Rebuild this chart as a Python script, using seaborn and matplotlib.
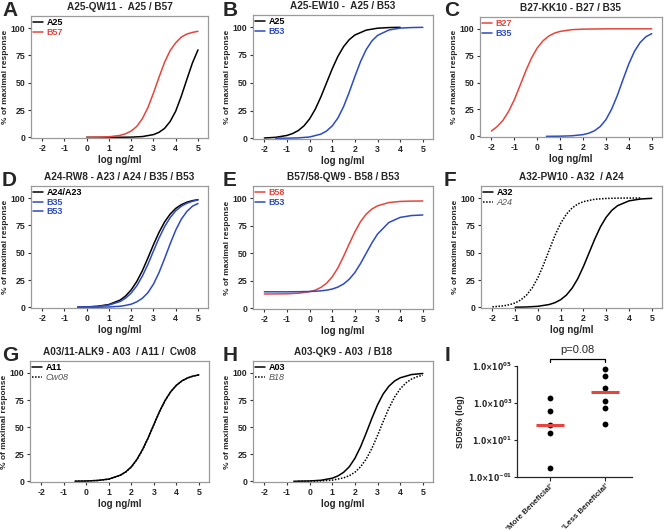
import numpy as np
import pandas as pd
import matplotlib
matplotlib.use("Agg")
import matplotlib.pyplot as plt
import seaborn as sns

sns.set_style("ticks")
plt.rcParams["font.family"] = ["Liberation Sans", "DejaVu Sans"]
plt.rcParams["font.weight"] = "bold"
plt.rcParams["axes.unicode_minus"] = False

RED = "#e5453c"
BLUE = "#2d4bc0"
DOT = (0, (1, 1))

# A: A25-QW11
a_x = [0, 0.5, 1, 1.5, 2, 2.5, 3, 3.25, 3.5, 3.75, 4, 4.25, 4.5, 4.75, 5]
a_a25 = [0, 0.01, 0.02, 0.07, 0.2, 0.7, 2.5, 4.6, 8.2, 14.5, 24, 37.6, 53, 68, 80]
a_xr = [0, 0.5, 1, 1.5, 1.75, 2, 2.25, 2.5, 2.75, 3, 3.25, 3.5, 3.75, 4, 4.25, 4.5, 4.75, 5]
a_b57 = [0.05, 0.16, 0.5, 1.8, 3.3, 5.8, 10.0, 17.0, 27.2, 40.5, 55, 68.7, 79.4, 86.5, 91.7, 94.5, 96.0, 97.0]

# B: A25-EW10
b_xk = [-2, -1.5, -1, -0.75, -0.5, -0.25, 0, 0.25, 0.5, 0.75, 1, 1.25, 1.5, 1.75, 2, 2.5, 3, 3.5, 4]
b_a25 = [0.3, 0.9, 2.6, 4.3, 7.0, 11.2, 17.5, 26.2, 37.4, 50, 62.6, 73.8, 82.5, 88.8, 93.0, 97.4, 99.1, 99.7, 99.9]
b_xb = [-1.5, -1, -0.5, 0, 0.5, 0.75, 1, 1.25, 1.5, 1.75, 2, 2.25, 2.5, 2.75, 3, 3.5, 4, 4.5, 5]
b_b53 = [0.04, 0.13, 0.4, 1.2, 3.8, 6.6, 11.2, 18.3, 28.5, 41.5, 55.7, 69.1, 79.9, 87.6, 92.6, 97.5, 99.2, 99.7, 99.9]

# C: B27-KK10
c_xr = [-2, -1.75, -1.5, -1.25, -1, -0.75, -0.5, -0.25, 0, 0.25, 0.5, 0.75, 1, 1.5, 2, 3, 4, 5]
c_b27 = [5.0, 9.1, 14.8, 23.2, 34.1, 47.3, 60.8, 72.9, 82.2, 88.8, 93.2, 96.0, 97.6, 99.2, 99.7, 100, 100, 100]
c_xb = [0.4, 1, 1.5, 2, 2.25, 2.5, 2.75, 3, 3.25, 3.5, 3.75, 4, 4.25, 4.5, 4.75, 5]
c_b35 = [0.03, 0.15, 0.5, 1.6, 2.9, 5.2, 9.1, 15.5, 25.3, 38.1, 53.0, 67.4, 79.2, 87.4, 92.7, 95.5]

# D: A24-RW8
d_x = [-0.4, 0, 0.5, 1, 1.5, 1.75, 2, 2.25, 2.5, 2.75, 3, 3.25, 3.5, 3.75, 4, 4.25, 4.5, 4.75, 5]
d_a24 = [0.17, 0.38, 1.0, 2.6, 6.6, 10.4, 16.0, 23.6, 33.4, 45.1, 57.3, 68.6, 78.1, 85.3, 90.5, 93.9, 96.2, 97.6, 98.5]
d_b35 = [0.14, 0.3, 0.8, 2.1, 5.3, 8.4, 13.1, 19.7, 28.5, 39.3, 51.5, 63.4, 73.8, 82.1, 88.3, 92.5, 95.2, 97.0, 98.2]
d_b53 = [0.02, 0.04, 0.11, 0.34, 1.0, 1.8, 2.9, 5.0, 8.3, 13.4, 21.2, 31.8, 44.6, 58.1, 70.6, 80.6, 87.7, 92.5, 95.0]

# E: B57/58-QW9
e_x = [-2, -1, -0.5, 0, 0.25, 0.5, 0.75, 1, 1.25, 1.5, 1.75, 2, 2.25, 2.5, 2.75, 3, 3.5, 4, 4.5, 5]
e_b58 = [13.0, 13.2, 13.7, 15.1, 16.5, 19.0, 22.8, 28.6, 36.7, 47.1, 58.5, 69.4, 78.7, 85.5, 90.1, 93.0, 96.0, 97.0, 97.3, 97.4]
e_b53 = [15.0, 15.0, 15.1, 15.3, 15.5, 15.9, 16.5, 17.5, 19.3, 22.1, 26.4, 32.5, 40.7, 50, 59.3, 67.4, 77.9, 82.5, 84.2, 84.7]

# F: A32-PW10
f_xk = [-1, -0.5, 0, 0.5, 0.75, 1, 1.25, 1.5, 1.75, 2, 2.25, 2.5, 2.75, 3, 3.25, 3.5, 4, 4.5, 5]
f_a32 = [0.12, 0.33, 0.94, 2.6, 4.3, 7.0, 11.2, 17.5, 26.2, 37.4, 50, 62.6, 73.8, 82.5, 88.8, 93.0, 97.4, 99.1, 99.7]
f_xd = [-2, -1.5, -1.25, -1, -0.75, -0.5, -0.25, 0, 0.25, 0.5, 0.75, 1, 1.25, 1.5, 1.75, 2, 2.5, 3, 3.5, 4, 4.5]
f_a24 = [0.47, 1.4, 2.4, 4.0, 6.8, 11.2, 17.8, 27.2, 39.2, 52.7, 65.9, 76.9, 85.2, 90.9, 94.5, 96.7, 98.9, 99.6, 99.9, 100, 100]

# G: A03/11-ALK9
g_x = [-0.5, 0, 0.5, 1, 1.5, 1.75, 2, 2.25, 2.5, 2.75, 3, 3.25, 3.5, 3.75, 4, 4.25, 4.5, 4.75, 5]
g_a11 = [0.12, 0.31, 0.82, 2.1, 5.6, 8.7, 13.4, 20.3, 29.4, 40.3, 52.4, 64.3, 74.6, 82.7, 88.6, 92.7, 95.4, 97.1, 98.2]
g_cw08 = [0.12, 0.3, 0.8, 2.0, 5.4, 8.5, 13.1, 20.0, 29.0, 40.0, 52.1, 64.1, 74.5, 82.6, 88.5, 92.7, 95.4, 97.1, 98.2]

# H: A03-QK9
h_xk = [-0.7, 0, 0.5, 1, 1.25, 1.5, 1.75, 2, 2.25, 2.5, 2.75, 3, 3.25, 3.5, 3.75, 4, 4.5, 5]
h_a03 = [0.07, 0.34, 1.0, 2.9, 5.0, 8.3, 13.4, 21.2, 31.8, 44.6, 58.1, 70.6, 80.6, 87.7, 92.5, 95.5, 98.5, 99.5]
h_xd = [-0.5, 0, 0.5, 1, 1.5, 1.75, 2, 2.25, 2.5, 2.75, 3, 3.25, 3.5, 3.75, 4, 4.25, 4.5, 4.75, 5]
h_b18 = [0.05, 0.15, 0.41, 1.1, 3.2, 5.2, 8.4, 13.4, 20.6, 30.4, 42.3, 55.2, 67.4, 77.6, 85.3, 90.7, 94.3, 96.5, 97.9]

# I: SD50% per group
i_groups = ["'More Beneficial'", "'Less Beneficial'"]
i_more = [1900, 390, 65, 24, 0.29]
i_less = [72000, 27500, 6600, 1350, 520, 71]

fig = plt.figure(figsize=(6.64, 5.31), dpi=100)


def box(l, t, r, b):
    return fig.add_axes([l / 664, 1 - b / 531, (r - l) / 664, (b - t) / 531])


def curve_panel(ax, title, curves):
    for name, xs, ys, color, ls in curves:
        sns.lineplot(x=xs, y=ys, ax=ax, color=color, linestyle=ls, lw=1.1,
                     label=name, sort=False)
    ax.set_xlim(-2.5, 5.45)
    ax.set_ylim(-0.6, 111)
    ax.set_xticks(range(-2, 6))
    ax.set_yticks([0, 25, 50, 75, 100])
    for s in ax.spines.values():
        s.set_color("#9a9a9a")
        s.set_linewidth(0.9)
    ax.tick_params(length=2.5, width=0.8, labelsize=6.3, pad=1.5, color="#333333")
    ax.set_xlabel("log ng/ml", fontsize=7, fontweight="bold", labelpad=2)
    ax.set_ylabel("% of maximal response", fontsize=6, fontweight="bold", labelpad=1)
    ax.set_title(title, fontsize=7.2, fontweight="bold", pad=4)
    leg = ax.legend(loc="upper left", frameon=False, fontsize=6.5, handlelength=1.1,
                    handletextpad=0.35, labelspacing=0.05, borderaxespad=0.15,
                    borderpad=0.1)
    for txt, (name, xs, ys, color, ls) in zip(leg.get_texts(), curves):
        if ls == "-":
            txt.set_color(color)
        else:
            txt.set_color("#555555")
            txt.set_fontstyle("italic")
            txt.set_fontweight("normal")


curve_panel(box(31, 16, 208, 138), "A25-QW11 -  A25 / B57",
            [("A25", a_x, a_a25, "black", "-"), ("B57", a_xr, a_b57, RED, "-")])
curve_panel(box(253, 15, 433, 139), "A25-EW10 -  A25 / B53",
            [("A25", b_xk, b_a25, "black", "-"), ("B53", b_xb, b_b53, BLUE, "-")])
curve_panel(box(480, 17, 662, 137), "B27-KK10 - B27 / B35",
            [("B27", c_xr, c_b27, RED, "-"), ("B35", c_xb, c_b35, BLUE, "-")])
curve_panel(box(31, 186, 208, 308), "A24-RW8 - A23 / A24 / B35 / B53",
            [("A24/A23", d_x, d_a24, "black", "-"), ("B35", d_x, d_b35, BLUE, "-"),
             ("B53", d_x, d_b53, BLUE, "-")])
curve_panel(box(253, 186, 433, 309), "B57/58-QW9 - B58 / B53",
            [("B58", e_x, e_b58, RED, "-"), ("B53", e_x, e_b53, BLUE, "-")])
curve_panel(box(481, 186, 662, 308), "A32-PW10 - A32  / A24",
            [("A32", f_xk, f_a32, "black", "-"), ("A24", f_xd, f_a24, "black", DOT)])
curve_panel(box(30, 361, 209, 482), "A03/11-ALK9 - A03  / A11 /  Cw08",
            [("A11", g_x, g_a11, "black", "-"), ("Cw08", g_x, g_cw08, "black", DOT)])
curve_panel(box(253, 361, 433, 482), "A03-QK9 - A03  / B18",
            [("A03", h_xk, h_a03, "black", "-"), ("B18", h_xd, h_b18, "black", DOT)])

# panel I
ax = box(517, 366, 632, 477)
df_i = pd.DataFrame({
    "group": [i_groups[0]] * len(i_more) + [i_groups[1]] * len(i_less),
    "sd50": i_more + i_less,
})
sns.stripplot(data=df_i, x="group", y="sd50", order=i_groups, jitter=False,
              color="black", size=4.2, ax=ax, log_scale=True)
for k, vals in enumerate([i_more, i_less]):
    ax.hlines(np.median(vals), k - 0.26, k + 0.26, color=RED, lw=2.2, zorder=3)
ax.set_yscale("log")
ax.set_ylim(0.1, 1e5)
ax.set_xlim(-0.6, 1.49)
ax.set_yticks([0.1, 10, 1000, 1e5])
ax.set_yticklabels([r"$\mathbf{1.0{\times}10^{-01}}$", r"$\mathbf{1.0{\times}10^{01}}$",
                    r"$\mathbf{1.0{\times}10^{03}}$", r"$\mathbf{1.0{\times}10^{05}}$"])
ax.minorticks_off()
ax.tick_params(axis="y", labelsize=5.5, length=2.5, width=0.8, pad=1)
ax.tick_params(axis="x", labelsize=5.8, length=3, width=0.8, pad=1)
plt.setp(ax.get_xticklabels(), rotation=45, ha="right", rotation_mode="anchor")
ax.set_xlabel("")
ax.set_ylabel("SD50% (log)", fontsize=6.5, fontweight="bold", labelpad=2)
for side in ["top", "right"]:
    ax.spines[side].set_visible(False)
for side in ["left", "bottom"]:
    ax.spines[side].set_linewidth(0.9)
tr = ax.get_xaxis_transform()
ax.plot([0, 0, 1, 1], [1.035, 1.065, 1.065, 1.035], color="black", lw=0.9,
        transform=tr, clip_on=False)
ax.text(0.5, 1.1, "p=0.08", transform=tr, ha="center", va="bottom",
        fontsize=8, fontweight="normal")

# panel letters
for letter, (px, py) in zip("ABCDEFGHI", [(2, 1), (223, 1), (444, 1), (2, 171), (223, 171),
                                          (444, 171), (2, 346), (223, 346), (445, 346)]):
    fig.text(px / 664, 1 - py / 531, letter, fontsize=15, fontweight="bold", va="top")

fig.savefig("out.png", dpi=100)
